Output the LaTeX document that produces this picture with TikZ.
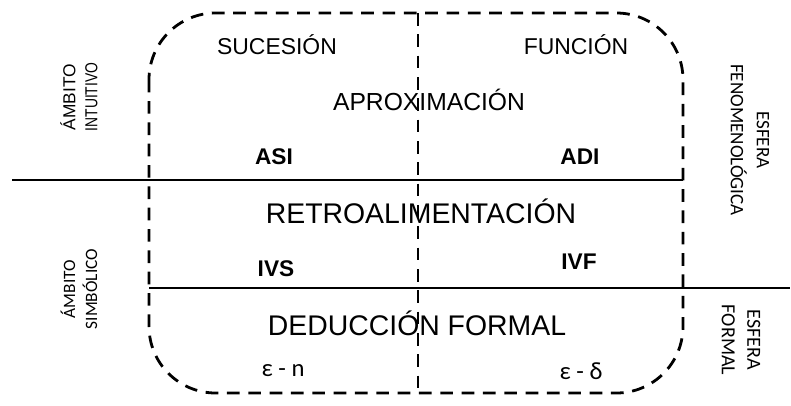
\documentclass[tikz,border=0pt]{standalone}
\usepackage{fontspec}
\setmainfont{Liberation Sans}
\newfontfamily\calib{Carlito}
\tikzset{
  frame/.style={line width=2.1pt, dash pattern=on 9.5pt off 6.5pt},
  divider/.style={line width=1.5pt},
  colhead/.style={font=\fontsize{17.2}{20}\selectfont},
  rowhead/.style={font=\fontsize{21.3}{24}\selectfont},
  code/.style={font=\bfseries\fontsize{17}{20}\selectfont},
  greek/.style={font=\calib\fontsize{18.5}{22}\selectfont},
  sidel/.style={rotate=90, align=center, inner sep=0pt},
  sider/.style={rotate=-90, align=center, inner sep=0pt}
}
\begin{document}
\begin{tikzpicture}[x=0.75pt,y=-0.75pt]
  \useasboundingbox (0,0) rectangle (791,405);

  % frame and dividers
  \draw[frame, rounded corners=50pt] (149,13) rectangle (683,393);
  \draw[frame] (418,13) -- (418,393);
  \draw[divider] (12,180) -- (683,180);
  \draw[divider] (149,288) -- (790,288);

  % column headings
  \node[colhead] (suc) at (277,45) {SUCESIÓN};
  \node[colhead] (fun) at (576,45) {FUNCIÓN};

  % rows
  \node[rowhead, font=\fontsize{18.5}{22}\selectfont] (aprox) at (429,100) {APROXIMACIÓN};
  \node[rowhead] (retro) at (421,211) {RETROALIMENTACIÓN};
  \node[rowhead] (deduc) at (417,323) {DEDUCCIÓN FORMAL};

  \node[code] (asi) at (274,157) {ASI};
  \node[code] (adi) at (580,157) {ADI};
  \node[code] (ivs) at (276,269) {IVS};
  \node[code] (ivf) at (579,262) {IVF};

  \node[greek] (en) at (283,371) {ε - n};
  \node[greek] (ed) at (581,371) {ε - δ};

  % side labels
  \node[sidel, font=\fontsize{13}{16.5}\selectfont] (intu) at (79,97) {ÁMBITO\\\scalebox{0.8}[1]{INTUITIVO}};
  \node[sidel, font=\calib\fontsize{13}{16.5}\selectfont] (simb) at (79,289) {ÁMBITO\\SIMBÓLICO};
  \node[sider, font=\calib\fontsize{14.3}{19.5}\selectfont] (feno) at (750,140) {ESFERA\\FENOMENOLÓGICA};
  \node[sider, font=\calib\fontsize{15}{19}\selectfont] (form) at (741,340) {ESFERA\\FORMAL};
\end{tikzpicture}
\end{document}
